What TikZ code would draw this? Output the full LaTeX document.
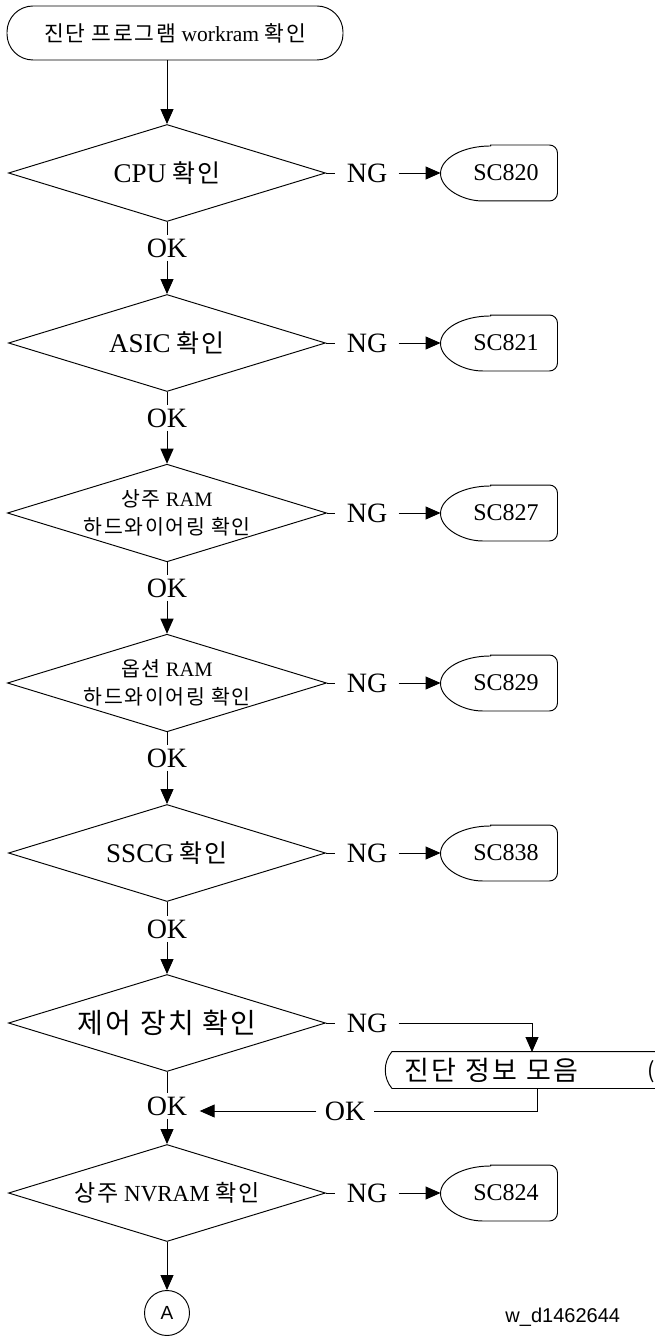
\documentclass[tikz,border=0pt]{standalone}
\usepackage{fontspec}
\setmainfont{Liberation Serif}
\newfontfamily\kr{Noto Sans CJK KR}[LetterSpace=8]
\newfontfamily\ar{Liberation Sans}
\usetikzlibrary{shapes.geometric,arrows.meta,calc}
\newcommand\fsz[1]{\fontsize{#1}{#1}\selectfont}
\newcommand\scoutline[1]{\draw[rounded corners=8pt] ($(#1.north west)+(50pt,0)$) -- (#1.north east) -- (#1.south east) -- ($(#1.south west)+(50pt,0)$) [sharp corners] arc[start angle=270,end angle=90,x radius=50pt,y radius=27.5pt] -- cycle;}
\newcommand\hw[1]{\hspace{6pt}{\kr\fsz{25}#1}}
\begin{document}
\begin{tikzpicture}[x=1pt,y=1pt,line width=0.95pt,
  arr/.style={-{Triangle[length=15pt,width=13pt]}},
  term/.style={draw, rectangle, rounded corners=26pt, minimum width=336pt, minimum height=54pt, inner sep=0pt, font=\fsz{21.5}},
  dec/.style={draw, diamond, aspect=3.27, minimum width=317pt, minimum height=97pt, inner sep=0pt, align=center, font=\fsz{27}},
  dec2/.style={dec, font=\fontsize{20.5}{28}\selectfont},
  lbl/.style={inner xsep=11pt, inner ysep=4pt, font=\fsz{28}},
  oklbl/.style={inner xsep=4pt, inner ysep=3pt, font=\fsz{28}},
  scn/.style={rectangle, minimum width=116pt, minimum height=55pt, inner sep=0pt, font=\fsz{24}},
  infon/.style={rectangle, minimum height=36pt, text width=284pt, inner xsep=12pt, inner ysep=0pt, align=left, font=\kr\fsz{27}}
]
\useasboundingbox (0,0) rectangle (655,-1337);

\node[term] (start) at (175,-33) {{\kr 진단 프로그램} workram {\kr 확인}};

\node[dec] (d1) at (167,-173) {CPU\hw{확인}};
\node[dec] (d2) at (167,-343) {ASIC\hw{확인}};
\node[dec2] (d3) at (167,-513) {{\kr 상주} RAM\\{\kr 하드와이어링 확인}};
\node[dec2] (d4) at (167,-683) {{\kr 옵션} RAM\\{\kr 하드와이어링 확인}};
\node[dec] (d5) at (167,-853) {SSCG\hw{확인}};
\node[dec, font=\kr\fsz{28}] (d6) at (167,-1023) {제어 장치 확인};
\node[dec, font=\fsz{23}] (d7) at (167,-1193) {{\kr 상주} NVRAM {\kr 확인}};

\node[oklbl] (ok1) at (167,-248) {OK};
\node[oklbl] (ok2) at (167,-418) {OK};
\node[oklbl] (ok3) at (167,-588) {OK};
\node[oklbl] (ok4) at (167,-758) {OK};
\node[oklbl] (ok5) at (167,-929) {OK};
\node[oklbl, inner xsep=12pt] (ok6) at (167,-1106) {OK};

\draw[arr] (start.south -| d1.north) -- (d1.north);
\foreach \i/\j in {1/2,2/3,3/4,4/5,5/6,6/7}{
  \draw (d\i.south) -- (ok\i.north -| d\i.south);
  \draw[arr] (ok\i.south -| d\i.south) -- (d\j.north);
}

\foreach \i/\yy/\code in {1/173/SC820,2/343/SC821,3/513/SC827,4/683/SC829,5/853/SC838,7/1193/SC824}{
  \node[lbl] (ng\i) at (367,-\yy) {NG};
  \node[scn] (s\i) at (499,-\yy) {\hspace*{14pt}\code};
  \scoutline{s\i}
  \draw (d\i.east) -- (ng\i.west);
  \draw[arr] (ng\i.east) -- (s\i.west);
}

\node[lbl] (ng6) at (367,-1023) {NG};
\draw (d6.east) -- (ng6.west);
\node[infon, anchor=west] (info) at (392,-1070) {진단 정보 모음};
\draw (info.north east) -- (info.north west) .. controls ($(info.west)+(-9,8)$) and ($(info.west)+(-9,-8)$) .. (info.south west) -- (info.south east);
\node[anchor=east, inner sep=0pt, font=\kr\fsz{22}] (cut) at (655,-1072) {(};
\coordinate (infoin) at (532,-1052);
\coordinate (infoout) at (537,-1088);
\draw[arr] (ng6.east) -| (infoin);
\node[inner xsep=8pt, font=\fsz{28}] (okr) at (345,-1111) {OK};
\draw (infoout) |- (okr.east);
\draw[arr] (okr.west) -- (okr.west -| ok6.east);

\node[circle, draw, minimum size=45pt, inner sep=0pt, font=\ar\fsz{19}] (A) at (167,-1313) {A};
\draw[arr] (d7.south) -- (A.north);

\node[anchor=west, inner sep=0pt, font=\ar\fsz{20}] (wid) at (505,-1317) {w\_d1462644};
\end{tikzpicture}
\end{document}
